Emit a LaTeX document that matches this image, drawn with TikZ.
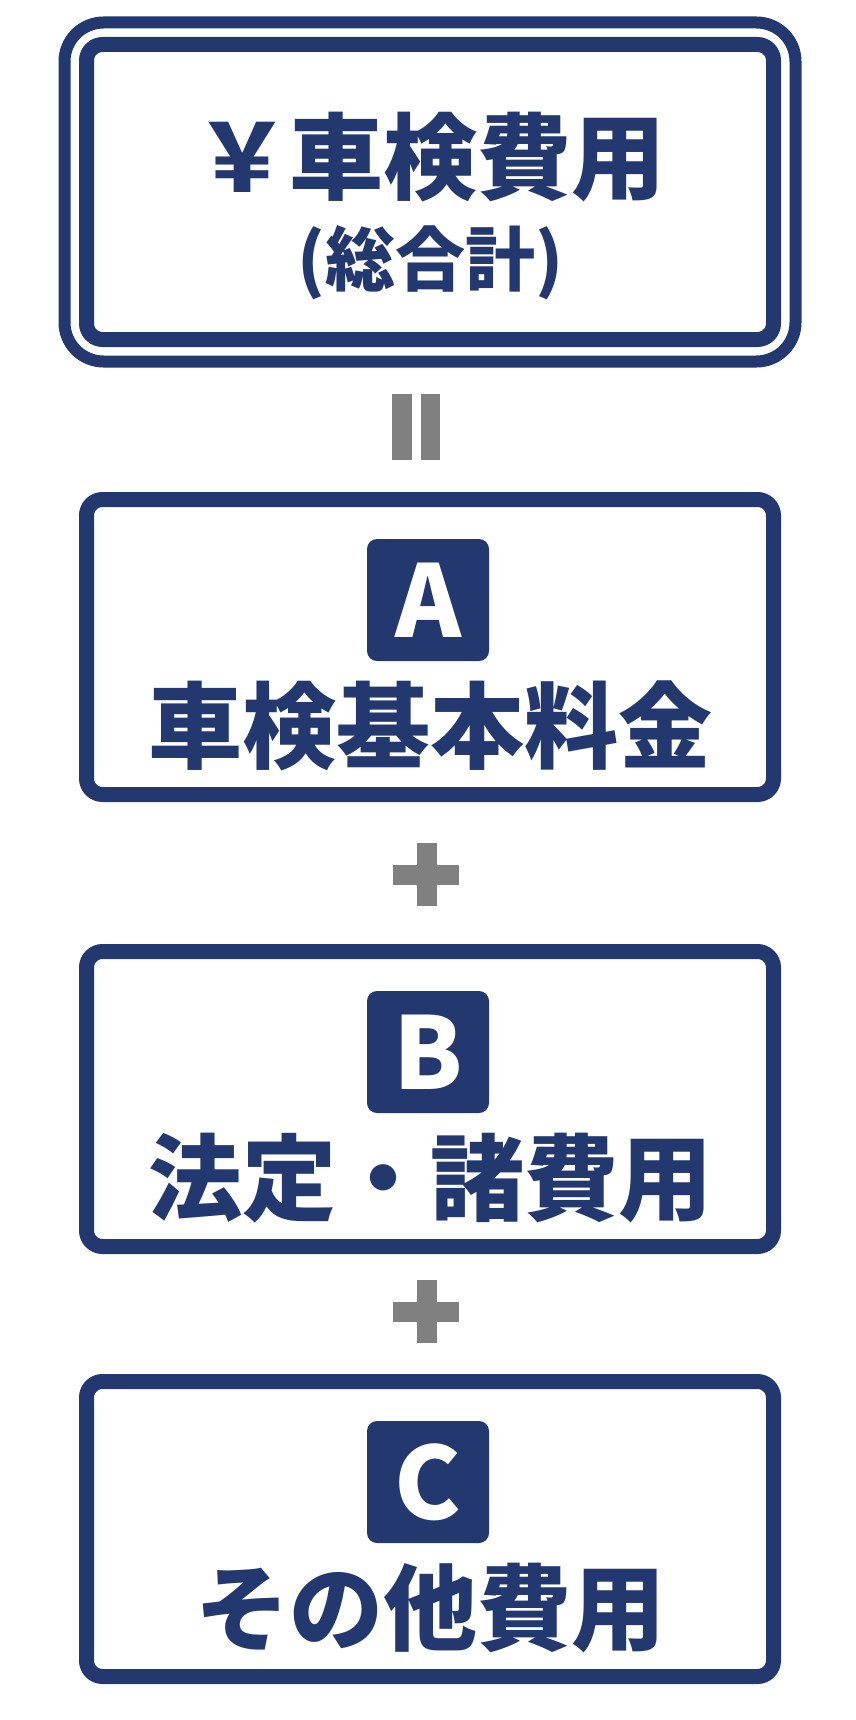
\documentclass[tikz,border=0pt]{standalone}
\usepackage{fontspec}
\newfontfamily\jpfont{Noto Sans CJK JP}
\definecolor{navy}{HTML}{22386F}
\definecolor{signgray}{HTML}{808080}

\tikzset{
  costbox/.style={draw=navy, line width=15pt, rounded corners=16pt, outer sep=0pt,
    minimum width=687pt, minimum height=295pt, inner sep=0pt},
  badge/.style={fill=navy, rounded corners=10pt, minimum width=122pt, minimum height=122pt,
    inner sep=0pt, text=white, font=\jpfont\bfseries\fontsize{100}{100}\selectfont},
  costtext/.style={text=navy, inner sep=0pt, font=\jpfont\bfseries\fontsize{94}{94}\selectfont},
  sign/.style={fill=signgray},
}

\begin{document}
\begin{tikzpicture}[x=1pt, y=1pt, node distance=455pt]
        \fill[white] (0,0) rectangle (855,-1720);
        \useasboundingbox (0,0) rectangle (855,-1720);

        % total
        \node[costbox] (total) at (430,-192) {};
        \draw[navy, line width=12pt, rounded corners=39pt]
            ([shift={(-22pt,22pt)}]total.north west) rectangle ([shift={(22pt,-22pt)}]total.south east);
        \node[costtext] (title) at (430,-157) {￥車検費用};
        \node[costtext, font=\jpfont\bfseries\fontsize{70}{70}\selectfont] (sum) [below of=title, node distance=106pt] {(総合計)};

        % A, B, C
        \node[costbox] (boxa) [below of=total] {};
        \node[costbox] (boxb) [below of=boxa, node distance=452pt] {};
        \node[costbox] (boxc) [below of=boxb, node distance=430pt] {};
        \node[badge] (bada) [above of=boxa, node distance=47pt, xshift=-2pt] {A};
        \node[badge] (badb) [above of=boxb, node distance=47pt, xshift=-2pt] {B};
        \node[badge] (badc) [above of=boxc, node distance=47pt, xshift=-2pt] {C};
        \node[costtext] (texta) [below of=boxa, node distance=79pt] {車検基本料金};
        \node[costtext] (textb) [below of=boxb, node distance=79pt] {法定・諸費用};
        \node[costtext] (textc) [below of=boxc, node distance=79pt] {その他費用};

        % = and +
        \coordinate (eq) at (416,-426.5);
        \fill[sign] ([shift={(-24pt,33pt)}]eq) rectangle ([shift={(-4pt,-33pt)}]eq);
        \fill[sign] ([shift={(5pt,33pt)}]eq) rectangle ([shift={(24pt,-33pt)}]eq);
        \foreach \pl/\py in {pla/-874.5, plb/-1311.5} {
            \coordinate (\pl) at (426,\py);
            \fill[sign] ([shift={(-9.5pt,31.5pt)}]\pl) rectangle ([shift={(10.5pt,-31.5pt)}]\pl);
            \fill[sign] ([shift={(-33pt,10pt)}]\pl) rectangle ([shift={(33pt,-10pt)}]\pl);
        }
\end{tikzpicture}
\end{document}
